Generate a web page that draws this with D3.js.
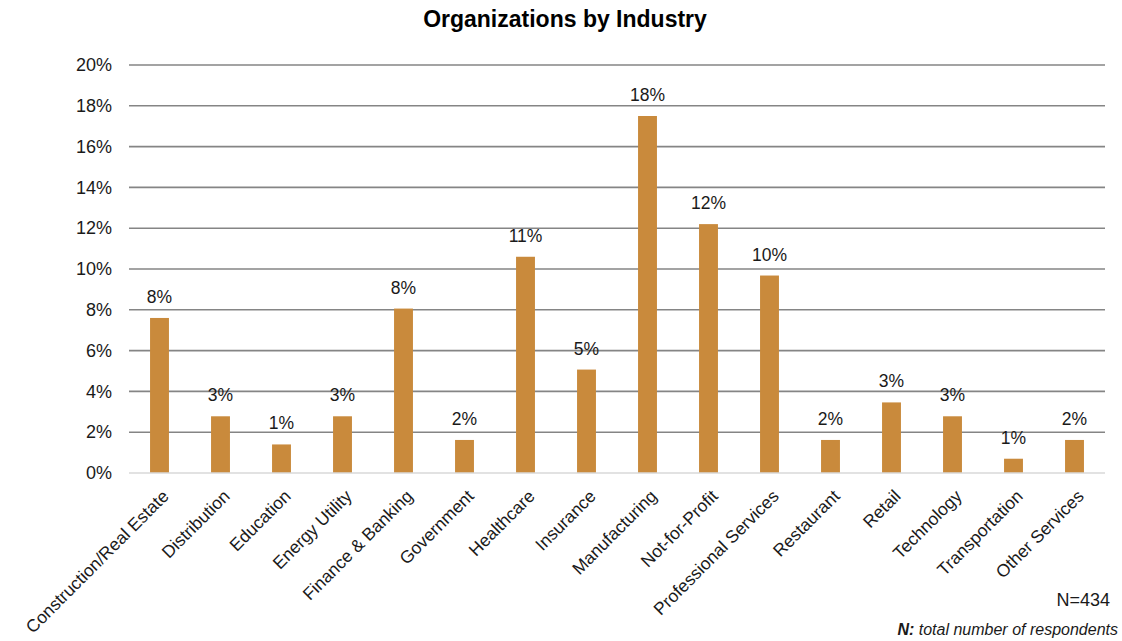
<!DOCTYPE html>
<html>
<head>
<meta charset="utf-8">
<script src="https://cdn.jsdelivr.net/npm/d3@7"></script>
<style>
  body { margin: 0; background: #fff; }
  svg { display: block; font-family: "Liberation Sans", Arial, sans-serif; }
</style>
</head>
<body>
<svg id="chart" width="1122" height="641"></svg>
<script>
// Share of responding organizations in each industry (percent)
const categories = [
  "Construction/Real Estate", "Distribution", "Education", "Energy Utility",
  "Finance & Banking", "Government", "Healthcare", "Insurance",
  "Manufacturing", "Not-for-Profit", "Professional Services", "Restaurant",
  "Retail", "Technology", "Transportation", "Other Services"
];
const values = [7.6, 2.78, 1.4, 2.78, 8.06, 1.62, 10.6, 5.07, 17.5, 12.2, 9.68, 1.62, 3.46, 2.78, 0.7, 1.62];
const yTicks = [0, 2, 4, 6, 8, 10, 12, 14, 16, 18, 20];

const svg = d3.select("#chart");
const margin = { left: 129, right: 17, top: 65, bottom: 168 };
const W = 1122, H = 641;
const ink = "#1a1a1a";

const x = d3.scaleBand()
  .domain(categories)
  .range([margin.left, W - margin.right])
  .paddingInner(0.69)
  .paddingOuter(0.345);

const y = d3.scaleLinear()
  .domain([0, 20])
  .range([H - margin.bottom, margin.top]);

// Title
svg.append("text")
  .attr("x", 565).attr("y", 27)
  .attr("text-anchor", "middle")
  .attr("font-size", 23).attr("font-weight", "bold")
  .attr("fill", "#000")
  .text("Organizations by Industry");

// Horizontal gridlines
svg.append("g")
  .selectAll("line")
  .data(yTicks.filter(d => d > 0))
  .join("line")
  .attr("x1", margin.left).attr("x2", W - margin.right)
  .attr("y1", d => y(d)).attr("y2", d => y(d))
  .attr("stroke", "#858585").attr("stroke-width", 1.6);

// Y axis labels
const yAxis = d3.axisLeft(y).tickValues(yTicks).tickFormat(d => d + "%").tickSize(0).tickPadding(17);
const yg = svg.append("g").attr("transform", `translate(${margin.left},0)`).call(yAxis);
yg.select(".domain").remove();
yg.selectAll("text").attr("font-size", 18).attr("fill", ink).attr("font-family", "Liberation Sans, Arial, sans-serif");

// Bars
svg.append("g")
  .selectAll("rect")
  .data(values)
  .join("rect")
  .attr("x", (d, i) => x(categories[i]))
  .attr("width", x.bandwidth())
  .attr("y", d => y(d))
  .attr("height", d => y(0) - y(d))
  .attr("fill", "#C98A3C");

// Baseline
svg.append("line")
  .attr("x1", margin.left).attr("x2", W - margin.right)
  .attr("y1", y(0)).attr("y2", y(0))
  .attr("stroke", "#d9d9d9").attr("stroke-width", 1.6);

// Value labels
svg.append("g")
  .selectAll("text")
  .data(values)
  .join("text")
  .attr("x", (d, i) => x(categories[i]) + x.bandwidth() / 2)
  .attr("y", d => y(d) - 15)
  .attr("text-anchor", "middle")
  .attr("font-size", 17.5).attr("fill", ink)
  .text(d => Math.round(d) + "%");

// Category labels, rotated
const xAxis = d3.axisBottom(x).tickSize(0).tickPadding(0);
const xg = svg.append("g").attr("transform", `translate(0,${y(0)})`).call(xAxis);
xg.select(".domain").remove();
xg.selectAll("text")
  .attr("font-size", 17.5).attr("fill", ink)
  .attr("font-family", "Liberation Sans, Arial, sans-serif")
  .attr("text-anchor", "end")
  .attr("y", 0)
  .attr("dy", "0.35em")
  .attr("transform", "translate(6,20) rotate(-45)");

// Footnotes
svg.append("text")
  .attr("x", 1110).attr("y", 606)
  .attr("text-anchor", "end")
  .attr("font-size", 18).attr("fill", ink)
  .text("N=434");

const note = svg.append("text")
  .attr("x", 1118).attr("y", 635)
  .attr("text-anchor", "end")
  .attr("font-size", 16).attr("font-style", "italic").attr("fill", ink);
note.append("tspan").attr("font-weight", "bold").text("N:");
note.append("tspan").text(" total number of respondents");
</script>
</body>
</html>
